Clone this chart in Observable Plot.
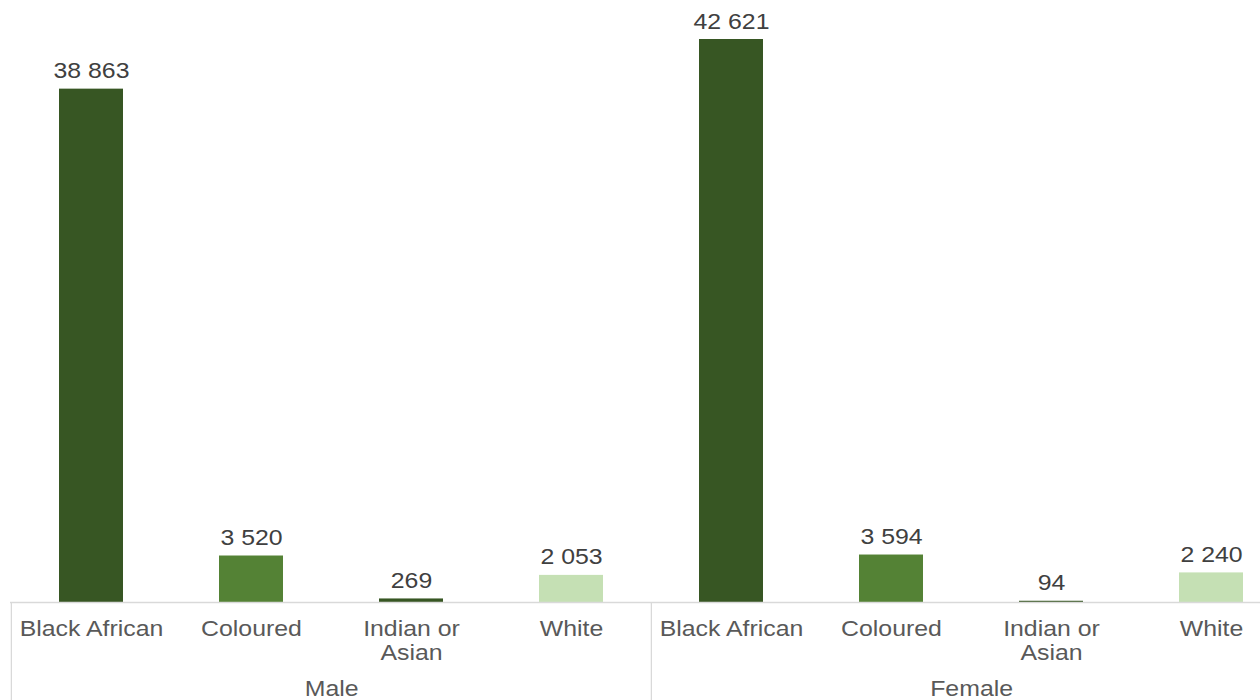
<!DOCTYPE html>
<html>
<head>
<meta charset="utf-8">
<script src="https://cdn.jsdelivr.net/npm/d3@7"></script>
<script src="https://cdn.jsdelivr.net/npm/@observablehq/plot@0.6"></script>
<style>
  html, body { margin: 0; padding: 0; background: #fff; }
  #chart svg { display: block; }
</style>
</head>
<body>
<div id="chart"></div>
<script>
const groups = ["Male", "Female"];
const categories = ["Black African", "Coloured", "Indian or Asian", "White"];
const categoryLabels = ["Black African", "Coloured", "Indian or\nAsian", "White"];
const maleValues = [38863, 3520, 269, 2053];
const femaleValues = [42621, 3594, 94, 2240];
const barColors = ["#375623", "#548235", "#375623", "#C5E0B4"];

const seriesByGroup = {Male: maleValues, Female: femaleValues};
const rows = [];
for (const g of groups) {
  categories.forEach((c, i) => {
    rows.push({group: g, category: c, label: categoryLabels[i], key: g + "|" + c,
               value: seriesByGroup[g][i], color: barColors[i]});
  });
}
const keys = rows.map(d => d.key);
const fmt = v => d3.format(",")(v).replace(/,/g, " ");
const step = (1292 - 10) / 8;

const firstOfGroup = rows.filter(d => d.category === categories[0]);
const groupMid = rows.filter(d => d.category === categories[1]);

const chart = Plot.plot({
  width: 1260,
  height: 700,
  marginTop: 39,
  marginBottom: 98,
  marginLeft: 10,
  marginRight: 0,
  style: {fontFamily: "'Liberation Sans', Arial, sans-serif", background: "#fff"},
  x: {type: "band", domain: keys, range: [10, 1292], paddingInner: 0.6, paddingOuter: 0.3, axis: null},
  y: {domain: [0, d3.max(rows, d => d.value)], axis: null},
  marks: [
    Plot.barY(rows, {x: "key", y: "value", fill: "color"}),
    Plot.ruleY([0], {stroke: "#d9d9d9", strokeWidth: 1.6}),
    Plot.ruleX(firstOfGroup, {x: "key", y1: 0, y2: 0, dx: -step / 2, insetBottom: -98, stroke: "#d9d9d9", strokeWidth: 1.3}),
    Plot.text(rows, {x: "key", y: "value", text: d => fmt(d.value), lineAnchor: "bottom", dy: -11,
                     fontSize: 22, fill: "#404040"}),
    Plot.text(rows, {x: "key", y: 0, text: "label", lineAnchor: "top", dy: 16, lineHeight: 1.09,
                     fontSize: 22, fill: "#595959"}),
    Plot.text(groupMid, {x: "key", y: 0, text: "group", lineAnchor: "top", dx: step / 2, dy: 78,
                         fontSize: 22, fill: "#595959"})
  ]
});

chart.querySelectorAll("text").forEach(t => {
  const tr = t.getAttribute("transform");
  if (tr) t.setAttribute("transform", tr + " scale(1.13,1)");
});
document.getElementById("chart").appendChild(chart);
</script>
</body>
</html>
